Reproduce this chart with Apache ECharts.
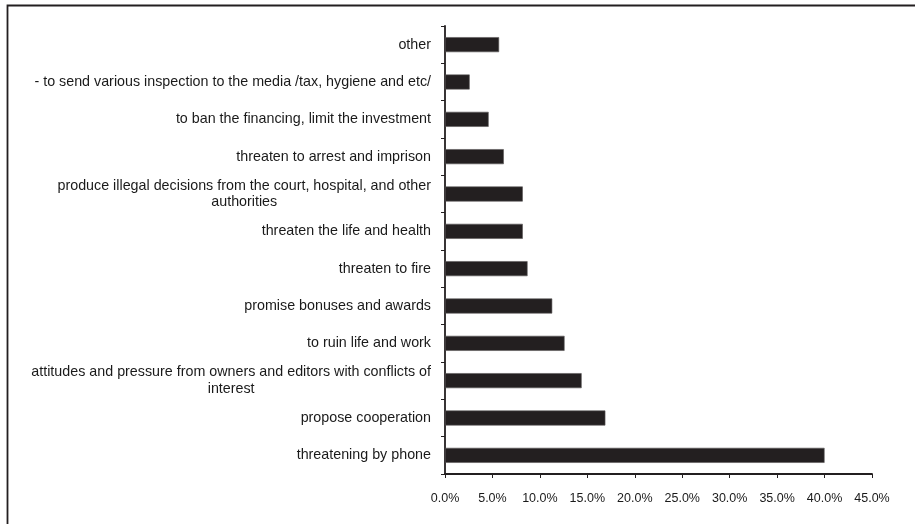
<!DOCTYPE html>
<html>
<head>
<meta charset="utf-8">
<script src="https://cdn.jsdelivr.net/npm/echarts@6/dist/echarts.min.js"></script>
<style>
html,body{margin:0;padding:0;background:#fff;}
#chart{width:915px;height:524px;}
</style>
</head>
<body>
<div id="chart"></div>
<script>
// categories from top to bottom
var categories = [
  "other",
  "- to send various inspection to the media /tax, hygiene and etc/",
  "to ban the financing, limit the investment",
  "threaten to arrest and imprison",
  "produce illegal decisions from the court, hospital, and other\nauthorities",
  "threaten the life and health",
  "threaten to fire",
  "promise bonuses and awards",
  "to ruin life and work",
  "attitudes and pressure from owners and editors with conflicts of\ninterest",
  "propose cooperation",
  "threatening by phone"
];
var values = [5.7, 2.6, 4.6, 6.2, 8.2, 8.2, 8.7, 11.3, 12.6, 14.4, 16.9, 40.0];
var xTicks = { min: 0, max: 45, interval: 5 };

var chart = echarts.init(document.getElementById('chart'), null, { renderer: 'canvas' });
var ink = '#231f20';
var labelFont = 'Liberation Sans, Arial, sans-serif';
chart.setOption({
  animation: false,
  backgroundColor: '#ffffff',
  graphic: [{
    type: 'rect',
    shape: { x: 7.5, y: 5.5, width: 1200, height: 1200 },
    style: { fill: 'none', stroke: ink, lineWidth: 1.8 },
    silent: true,
    z: 0
  }],
  grid: { left: 445, top: 26, right: 43, bottom: 50, containLabel: false },
  xAxis: {
    type: 'value',
    min: xTicks.min, max: xTicks.max, interval: xTicks.interval,
    axisLine: { show: true, lineStyle: { color: ink, width: 1.8 } },
    axisTick: { show: true, length: 4, lineStyle: { color: ink, width: 1 } },
    splitLine: { show: false },
    axisLabel: {
      margin: 18,
      color: '#1a1a1a',
      fontFamily: labelFont,
      fontSize: 12.5,
      formatter: function (v) { return v.toFixed(1) + '%'; }
    }
  },
  yAxis: {
    type: 'category',
    data: categories,
    inverse: true,
    axisLine: { show: true, lineStyle: { color: ink, width: 1.8 } },
    axisTick: { show: true, length: 4, alignWithLabel: false, lineStyle: { color: ink, width: 1 } },
    axisLabel: {
      margin: 14,
      color: '#1a1a1a',
      fontFamily: labelFont,
      fontSize: 14.3,
      lineHeight: 16.5,
      formatter: function (v) {
        return v.split('\n').map(function (s) { return '{c|' + s + '}'; }).join('\n');
      },
      rich: {
        c: {
          align: 'center',
          fontFamily: labelFont,
          fontSize: 14.3,
          lineHeight: 16.5,
          color: '#1a1a1a'
        }
      }
    }
  },
  series: [{
    type: 'bar',
    data: values,
    barWidth: 15,
    itemStyle: { color: ink, borderColor: '#5a5758', borderWidth: 0.6 }
  }]
});
</script>
</body>
</html>
